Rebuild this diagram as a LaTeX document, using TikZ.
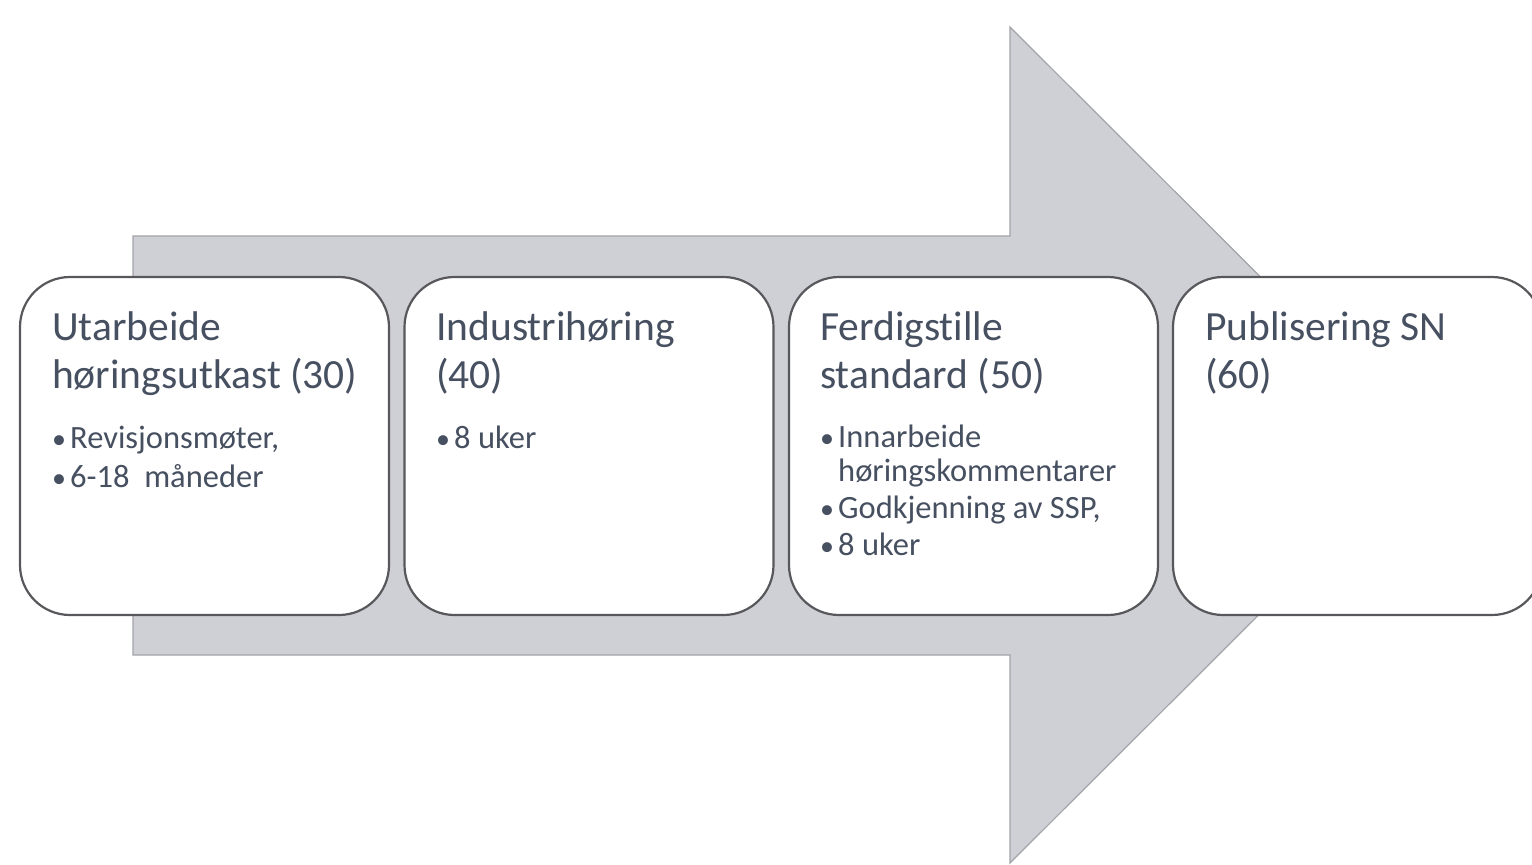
\documentclass[tikz,border=0pt]{standalone}
\usepackage{fontspec}
\setmainfont{Carlito}[Ligatures=NoCommon]
\definecolor{arrowfill}{HTML}{CFD0D5}
\definecolor{arrowline}{HTML}{A3A4AA}
\definecolor{boxline}{HTML}{58585C}
\definecolor{txt}{HTML}{465060}
\tikzset{
  stepbox/.style={draw=boxline, line width=2.2pt, fill=white, rounded corners=50pt,
    minimum width=369pt, minimum height=338pt, inner sep=0pt},
  ttl/.style={anchor=base west, inner sep=0pt, text=txt, font=\fontsize{41.5}{48}\selectfont},
  itm/.style={anchor=base west, inner sep=0pt, text=txt, font=\fontsize{32.5}{36}\selectfont},
}
\newcommand{\bul}{\makebox[18pt][l]{\fontsize{28}{28}\selectfont•}}
\begin{document}
\begin{tikzpicture}[x=1pt,y=-1pt]
\useasboundingbox (0,0) rectangle (1532,865);
\clip (0,0) rectangle (1532,865);
\fill[white] (0,0) rectangle (1532,865);
% big arrow
\draw[fill=arrowfill, draw=arrowline, line width=1.2pt, line join=miter]
  (133,236) -- (1010,236) -- (1010,27) -- (1429,445) -- (1010,863) -- (1010,655) -- (133,655) -- cycle;
% boxes
\node[stepbox] (b1) at (204.5,446) {};
\node[stepbox] (b2) at (589,446) {};
\node[stepbox] (b3) at (973.5,446) {};
\node[stepbox] (b4) at (1357.5,446) {};
% box 1
\node[ttl] (t1a) at (52,340) {Utarbeide};
\node[ttl] (t1b) at (52,388) {høringsutkast (30)};
\node[itm] (i1a) at (52,448) {\bul Revisjonsmøter,};
\node[itm] (i1b) at (52,487) {\bul 6-18\ \ måneder};
% box 2
\node[ttl] (t2a) at (436,340) {Industrihøring};
\node[ttl] (t2b) at (436,388) {(40)};
\node[itm] (i2a) at (436,448) {\bul 8 uker};
% box 3
\node[ttl] (t3a) at (820,340) {Ferdigstille};
\node[ttl] (t3b) at (820,388) {standard (50)};
\node[itm] (i3a) at (820,447) {\bul Innarbeide};
\node[itm] (i3b) at (838,481) {høringskommentarer};
\node[itm] (i3c) at (820,518) {\bul Godkjenning av SSP,};
\node[itm] (i3d) at (820,555) {\bul 8 uker};
% box 4
\node[ttl] (t4a) at (1205,340) {Publisering SN};
\node[ttl] (t4b) at (1205,388) {(60)};
\end{tikzpicture}
\end{document}
